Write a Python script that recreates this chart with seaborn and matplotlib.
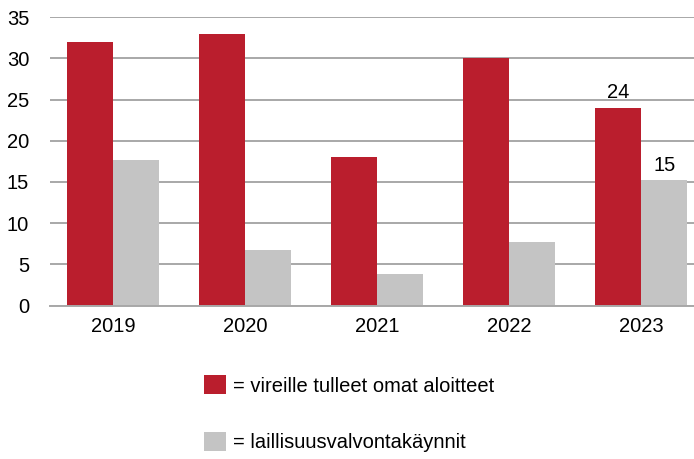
"""Vireille tulleet omat aloitteet ja laillisuusvalvontakäynnit 2019-2023."""

import matplotlib
matplotlib.use("Agg")
import matplotlib.pyplot as plt
from matplotlib.patches import Patch
import pandas as pd
import seaborn as sns

# Data
years = ["2019", "2020", "2021", "2022", "2023"]
aloitteet = [32, 33, 18, 30, 24]
kaynnit = [17.7, 6.7, 3.8, 7.7, 15.2]
series_names = ["= vireille tulleet omat aloitteet", "= laillisuusvalvontakäynnit"]
shown_labels = {0: ["", "", "", "", "24"], 1: ["", "", "", "", "15"]}

RED = "#BA1E2D"
GREY = "#C4C4C4"
GRID = "#A8A8A8"
FS = 14.5

sns.set_style("white")
plt.rcParams["font.family"] = ["Liberation Sans", "DejaVu Sans"]
plt.rcParams["text.color"] = "black"

df = pd.DataFrame({
    "year": years * 2,
    "value": aloitteet + kaynnit,
    "series": [series_names[0]] * len(years) + [series_names[1]] * len(years),
})

fig = plt.figure(figsize=(6.94, 4.59), dpi=100)
ax = fig.add_axes([50 / 694, 1 - 305.5 / 459, 1 - 50 / 694, (305.5 - 17.3) / 459])

sns.barplot(data=df, x="year", y="value", hue="series", palette=[RED, GREY],
            width=0.695, saturation=1, legend=False, ax=ax)

ax.set_ylim(0, 35)
ax.set_xlim(-0.48, 4.40)
ax.set_yticks(range(0, 36, 5))
ax.yaxis.grid(True, color=GRID, linewidth=1.4)
ax.set_axisbelow(True)
ax.set_xlabel("")
ax.set_ylabel("")
for side in ["top", "right", "left"]:
    ax.spines[side].set_visible(False)
ax.spines["bottom"].set_color(GRID)
ax.spines["bottom"].set_linewidth(1.4)
ax.tick_params(axis="both", length=0, labelsize=FS, colors="black")
ax.tick_params(axis="y", pad=15)
ax.tick_params(axis="x", pad=8)

for i, cont in enumerate(ax.containers):
    for bar in cont:
        bar.set_edgecolor("none")
    ax.bar_label(cont, labels=shown_labels[i], padding=4, fontsize=FS, color="black")

handles = [Patch(facecolor=RED, edgecolor="none"), Patch(facecolor=GREY, edgecolor="none")]
fig.legend(handles, series_names, loc="upper left",
           bbox_to_anchor=(204 / 694, 1 - 375 / 459), frameon=False,
           fontsize=FS, handlelength=1.1, handleheight=1.1,
           handletextpad=0.33, labelspacing=1.8, borderpad=0, borderaxespad=0,
           labelcolor="black")

fig.savefig("out.png", dpi=100)
plt.close(fig)
